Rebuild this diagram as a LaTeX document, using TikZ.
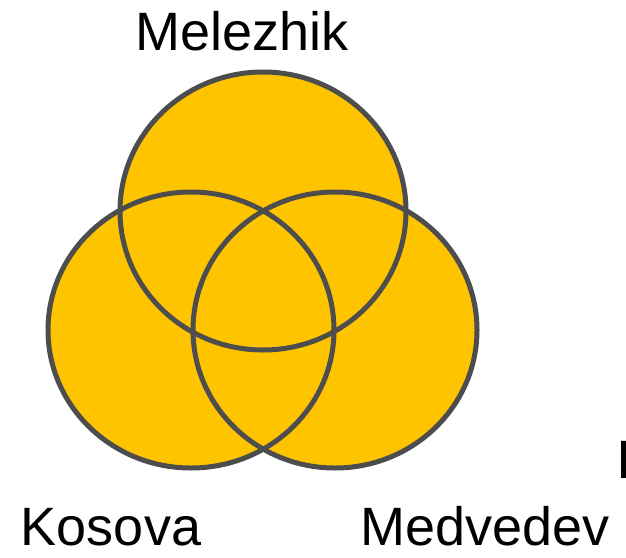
\documentclass[tikz,border=0pt]{standalone}
\usepackage{fontspec}
\setmainfont{Liberation Sans}
\usepackage{tikz}
\usetikzlibrary{positioning}
\definecolor{setfill}{HTML}{FFC400}
\definecolor{setline}{HTML}{4D4D4D}

\begin{document}
\begin{tikzpicture}[x=1pt, y=-1pt,
  setarea/.style={fill=setfill},
  setedge/.style={draw=setline, line width=5pt},
  lbl/.style={font=\fontsize{54}{60}\selectfont, inner sep=0pt, anchor=base}]
\useasboundingbox (0,0) rectangle (626,557);
\coordinate (melc) at (263,211);
\coordinate (kosc) at (191,330);
\coordinate (medc) at (335,330);
\fill[setarea] (melc) ellipse [x radius=143pt, y radius=139pt];
\fill[setarea] (kosc) ellipse [x radius=143pt, y radius=138pt];
\fill[setarea] (medc) ellipse [x radius=142pt, y radius=138pt];
\draw[setedge] (melc) ellipse [x radius=143pt, y radius=139pt];
\draw[setedge] (kosc) ellipse [x radius=143pt, y radius=138pt];
\draw[setedge] (medc) ellipse [x radius=142pt, y radius=138pt];
\node[lbl] (mel) at (242,50) {Melezhik};
\node[lbl] (kos) at (111,545) {Kosova};
\node[lbl] (med) at (485,545) {Medvedev};
\node[lbl, anchor=base west] (cut) at (616,478) {I};
\end{tikzpicture}
\end{document}
